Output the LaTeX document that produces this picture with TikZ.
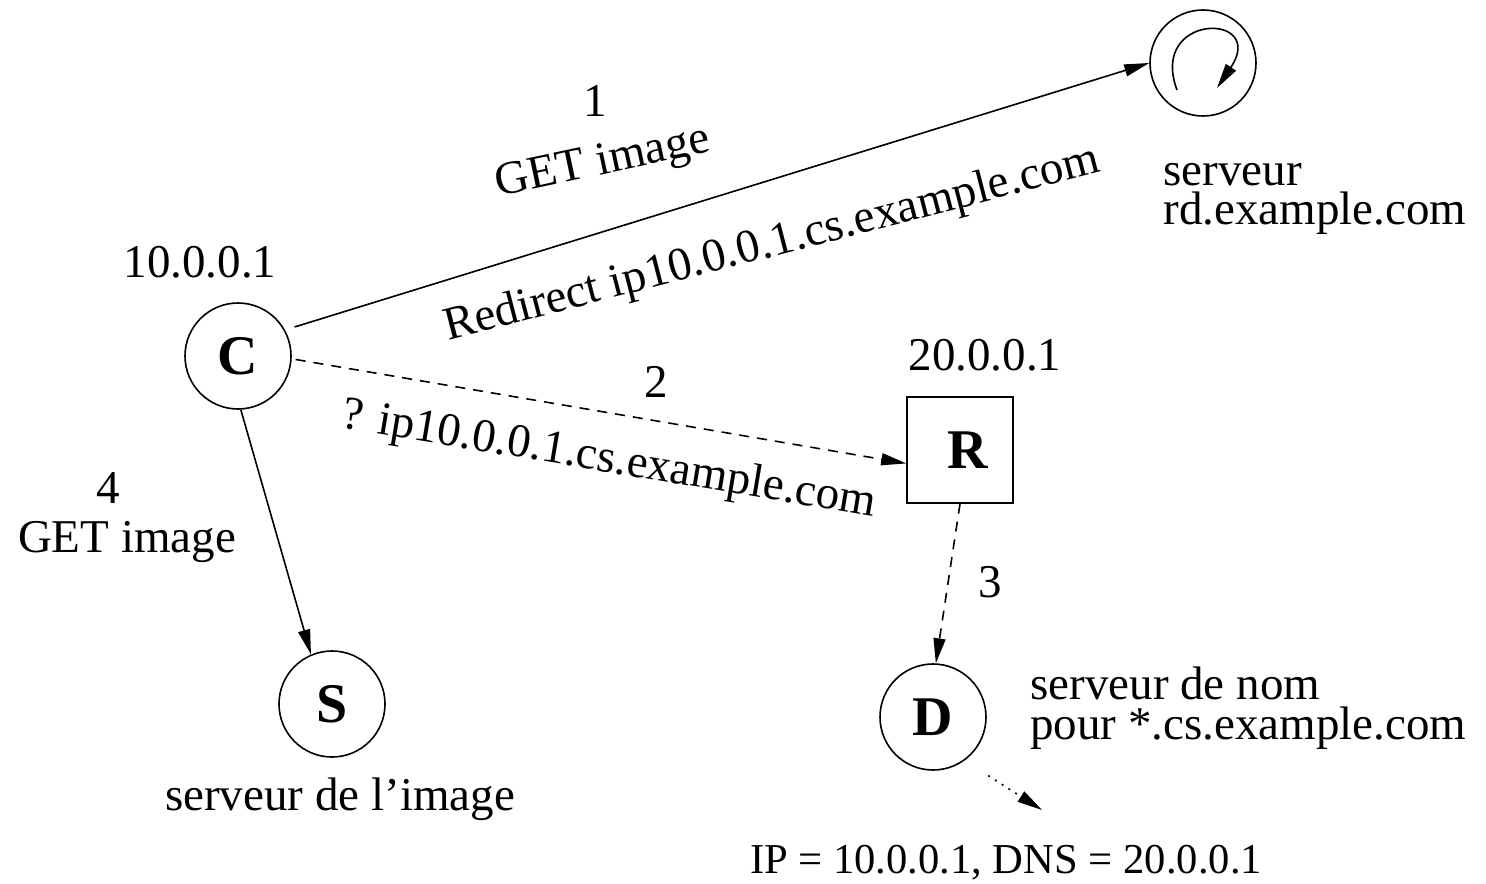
\documentclass[tikz,border=0pt]{standalone}
\usepackage{fontspec}
\setmainfont{Liberation Serif}
\usetikzlibrary{arrows.meta}
\begin{document}
\begin{tikzpicture}[x=0.5pt,y=-0.5pt,
  lbl/.style={font=\fontsize{23.5}{24}\selectfont, inner sep=0pt, anchor=base},
  lblw/.style={lbl, anchor=base west},
  ent/.style={circle, draw, line width=0.8pt, minimum size=53pt, inner sep=0pt,
              font=\fontsize{28}{30}\selectfont\bfseries},
  relay/.style={rectangle, draw, line width=0.8pt, minimum size=53pt, inner sep=0pt,
              font=\fontsize{28}{30}\selectfont\bfseries},
  link/.style={line width=0.8pt, -{Triangle[length=12.5pt,width=6pt]}},
  query/.style={link, dash pattern=on 5pt off 4pt},
  answer/.style={link, dash pattern=on 1pt off 3pt},
]
\useasboundingbox (0,0) rectangle (1486,883);

% hosts
\node[ent] (C) at (238,356) {C};
\node[ent] (S) at (332,704) {S};
\node[ent] (D) at (933,717) {D};
\node[ent] (RD) at (1203,63) {};
\node[relay, text depth=-7pt] (R) at (960,450) {\hspace{8pt}R};

% redirector loop inside the rd server
\draw[link] (1177,90) .. controls (1148,12) and (1268,12) .. (1217,88);

% addresses and roles
\node[lbl] (ipC) at (200,277) {10.0.0.1};
\node[lbl] (ipR) at (985,370) {20.0.0.1};
\node[lblw] (rd1) at (1163,185) {serveur};
\node[lblw] (rd2) at (1163,224) {rd.example.com};
\node[lblw] (ns1) at (1030,699) {serveur de nom};
\node[lblw] (ns2) at (1030,739) {pour *.cs.example.com};
\node[lbl] (img) at (340,810) {serveur de l'image};
\node[lbl, font=\fontsize{21.3}{22}\selectfont] (res) at (1006,873) {IP = 10.0.0.1, DNS = 20.0.0.1};

% step 1
\draw[link, shorten <=5pt] (C.29) -- (RD.180);
\node[lbl] (n1) at (595,117) {1};
\node[lbl, rotate=12] (get1) at (605,174) {GET image};
\node[lbl, rotate=14.5] (redir) at (775,256) {Redirect ip10.0.0.1.cs.example.com};

% step 2
\draw[query, shorten <=2pt] (C.357) -- (R.194);
\node[lbl] (n2) at (656,397) {2};
\node[lbl, rotate=-9.5] (q2) at (607,472) {? ip10.0.0.1.cs.example.com};

% step 3
\draw[query] (R.south) -- (D.87);
\node[lbl] (n3) at (990,597) {3};

% answer
\coordinate (resend) at (1042,810);
\draw[answer, shorten <=14pt] (D.-54) -- (resend);

% step 4
\draw[link] (C.273) -- (S.113);
\node[lbl] (n4) at (108,503) {4};
\node[lbl] (get4) at (127,552) {GET image};
\end{tikzpicture}
\end{document}
